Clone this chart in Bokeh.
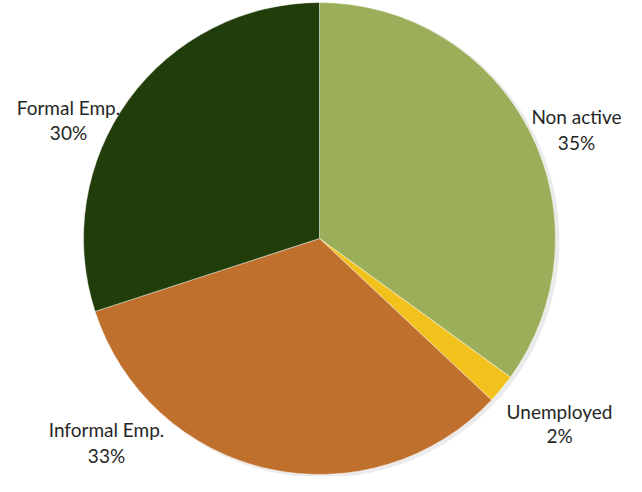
import numpy as np
from bokeh.plotting import figure
from bokeh.models import ColumnDataSource, Range1d
from bokeh.core.properties import value
from bokeh.embed import file_html
from bokeh.resources import INLINE

categories = ["Non active", "Unemployed", "Informal Emp.", "Formal Emp."]
shares = [35, 2, 33, 30]
pct_labels = ["35%", "2%", "33%", "30%"]
colors = ["#9BAF5A", "#F2C21C", "#C0702D", "#213E0A"]

W, H = 626, 476
vals = np.array(shares, dtype=float)
frac = vals / vals.sum()
cum = np.concatenate([[0], np.cumsum(frac)])
start = np.pi / 2 - cum[:-1] * 2 * np.pi
end = np.pi / 2 - cum[1:] * 2 * np.pi

cx, cy = 319, H - 238
R = 236
src = ColumnDataSource(dict(start=start, end=end, color=colors,
                            cat=categories, pct=pct_labels))

p = figure(width=W, height=H, output_backend="svg", toolbar_location=None,
           x_range=Range1d(0, W), y_range=Range1d(0, H), min_border=0)
p.axis.visible = False
p.grid.visible = False
p.outline_line_color = None
p.background_fill_color = "white"

# soft shadow
p.wedge(x=cx + 3, y=cy - 2, radius=R + 1, radius_units="screen",
        start_angle=0, end_angle=2 * np.pi, fill_color="#000000",
        fill_alpha=0.08, line_color=None)

p.wedge(x=cx, y=cy, radius=R, radius_units="screen", start_angle="end",
        end_angle="start", fill_color="color", line_color="white",
        line_alpha=0.45, line_width=1, source=src)

# label positions (picture pixels from top-left)
lx = [576, 559, 106, 68]
ly1 = [116, 411, 429, 107]
ly2 = [142, 435, 455, 132]
lab = ColumnDataSource(dict(x=lx, y1=[H - v for v in ly1], y2=[H - v for v in ly2],
                            cat=categories, pct=pct_labels))
for col, yc in (("cat", "y1"), ("pct", "y2")):
    p.text(x="x", y=yc, text=col, source=lab, text_font=value("Lato"),
           text_font_size="19px", text_color="#262626", text_align="center",
           text_baseline="middle")

open("out.html", "w").write(file_html(p, INLINE))
